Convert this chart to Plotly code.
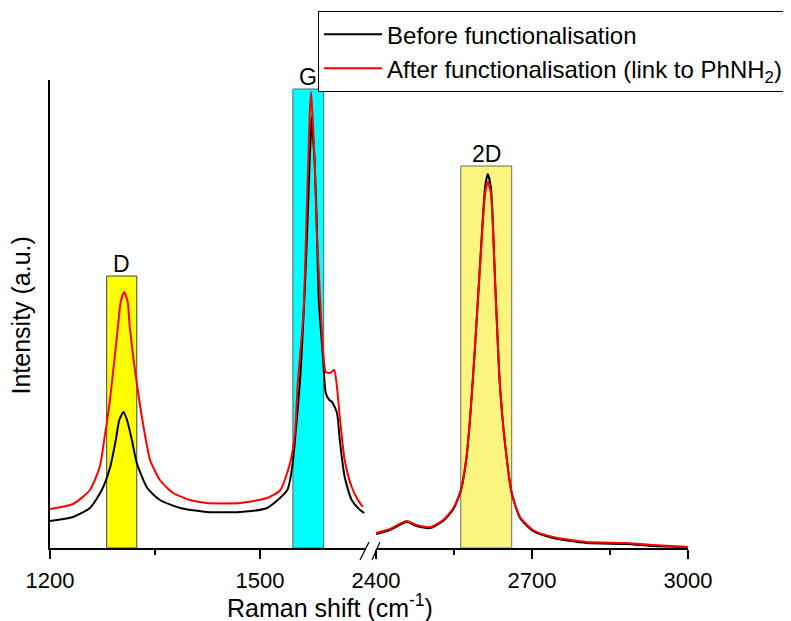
import plotly.graph_objects as go

# ---------------- data ----------------
# Left segment (Raman shift 1200-1650 cm-1)
before_left_x = [1200, 1233, 1257, 1274, 1286, 1294, 1299, 1305, 1310, 1317, 1324, 1339, 1357, 1386,
                 1424, 1471, 1510, 1539, 1546, 1550, 1557, 1561, 1564, 1568, 1571, 1573, 1574, 1575,
                 1578, 1581, 1584, 1590, 1594, 1599, 1603, 1610, 1614, 1621, 1631, 1643, 1649]
before_left_y = [27, 31, 40, 58, 81, 108, 128, 136, 128, 108, 85, 60, 48, 40,
                 36, 36, 40, 58, 81, 108, 165, 215, 258, 328, 388, 418, 431, 418,
                 388, 328, 248, 191, 155, 148, 146, 135, 108, 71, 48, 38, 35]

after_left_x = [1200, 1233, 1257, 1271, 1277, 1286, 1297, 1301, 1306, 1311, 1314, 1326, 1337, 1343,
                1357, 1376, 1400, 1424, 1471, 1510, 1529, 1543, 1550, 1554, 1560, 1563, 1566, 1569,
                1571, 1573, 1575, 1578, 1581, 1586, 1590, 1594, 1600, 1606, 1610, 1614, 1621, 1631,
                1640, 1647]
after_left_y = [39, 44, 58, 81, 106, 150, 221, 246, 256, 246, 221, 155, 108, 88,
                68, 55, 48, 45, 45, 50, 58, 85, 115, 165, 215, 248, 318, 388,
                433, 456, 433, 388, 318, 248, 198, 176, 175, 178, 161, 131, 88, 61,
                48, 41]

# Right segment (Raman shift 2400-3000 cm-1)
right_x = [2400, 2427, 2459, 2478, 2504, 2529, 2549, 2563, 2574, 2581, 2590, 2600, 2610,
           2615, 2621, 2629, 2638, 2648, 2661, 2677, 2702, 2740, 2805, 2882, 2933, 3000]
before_right_y = [14, 18, 26, 22, 20, 27, 39, 57, 90, 130, 198, 283, 362,
                  374, 360, 268, 165, 105, 55, 30, 17, 10, 5, 4, 2, 1]
after_right_y = [15, 19, 27, 23, 21, 28, 40, 58, 91, 131, 198, 281, 355,
                 366, 355, 265, 165, 105, 55, 31, 18, 11, 6, 5, 3, 1]

# Highlighted bands
band_labels = ["D", "G", "2D"]
band_start = [1281, 1547, 2563]
band_end = [1324, 1591, 2661]
band_height = [272, 459, 382]
band_axis = ["x", "x", "x2"]

left_ticks = [1200, 1500]
left_minor = [1350]
right_ticks = [2400, 2700, 3000]
right_minor = [2550, 2850]

legend_names = ["Before functionalisation", "After functionalisation (link to PhNH<sub>2</sub>)"]

# ---------------- figure ----------------
FONT = "Arial, Liberation Sans, sans-serif"
fig = go.Figure()

fig.add_trace(go.Scatter(x=before_left_x, y=before_left_y, mode="lines", name=legend_names[0],
                         line=dict(color="#000000", width=2, shape="spline", smoothing=0.6),
                         xaxis="x", yaxis="y", legendgroup="b"))
fig.add_trace(go.Scatter(x=after_left_x, y=after_left_y, mode="lines", name=legend_names[1],
                         line=dict(color="#ff0000", width=2, shape="spline", smoothing=0.6),
                         xaxis="x", yaxis="y", legendgroup="a"))
fig.add_trace(go.Scatter(x=right_x, y=before_right_y, mode="lines", name=legend_names[0],
                         line=dict(color="#000000", width=2, shape="spline", smoothing=0.6),
                         xaxis="x2", yaxis="y", legendgroup="b", showlegend=False))
fig.add_trace(go.Scatter(x=right_x, y=after_right_y, mode="lines", name=legend_names[1],
                         line=dict(color="#ff0000", width=2, shape="spline", smoothing=0.6),
                         xaxis="x2", yaxis="y", legendgroup="a", showlegend=False))

band_fill = ["#ffff00", "#00ffff", "#fbf57f"]
band_line = ["#404040", "#4a6a6a", "#6a6a50"]
shapes = []
annotations = []
for lab, s, e, h, ax, fc, lc in zip(band_labels, band_start, band_end, band_height, band_axis,
                                    band_fill, band_line):
    shapes.append(dict(type="rect", xref=ax, yref="y", x0=s, x1=e, y0=0, y1=h,
                       fillcolor=fc, line=dict(color=lc, width=1), layer="below"))
    annotations.append(dict(text=lab, xref=ax, yref="y", x=(s + e) / 2, y=h, yanchor="bottom",
                            showarrow=False, font=dict(size=23, color="black", family=FONT), yshift=-3))

# axis break marks
for x0, x1 in [(0.4859, 0.5), (0.5047, 0.5172)]:
    shapes.append(dict(type="line", xref="paper", yref="paper", x0=x0, y0=-0.0256, x1=x1, y1=0.0128,
                       line=dict(color="black", width=1.2)))

annotations.append(dict(text="Raman shift (cm<sup>-1</sup>)", xref="paper", yref="paper",
                        x=0.439, y=-0.124, xanchor="center", yanchor="middle", showarrow=False,
                        font=dict(size=25, color="black", family=FONT)))
annotations.append(dict(text="Intensity (a.u.)", xref="paper", yref="paper", textangle=-90,
                        x=-0.046, y=0.496, xanchor="center", yanchor="middle", showarrow=False,
                        font=dict(size=25, color="black", family=FONT)))

axis_common = dict(showline=True, linecolor="black", linewidth=1.5, showgrid=False, zeroline=False,
                   ticks="outside", ticklen=9, tickwidth=1.5, tickcolor="black",
                   tickfont=dict(size=22, color="black", family=FONT), ticklabelstandoff=3)

fig.update_layout(
    width=783, height=613,
    margin=dict(l=42, r=103, t=72, b=73, autoexpand=False),
    paper_bgcolor="white", plot_bgcolor="white",
    font=dict(family=FONT, color="black"),
    xaxis=dict(domain=[0, 0.4937], range=[1200, 1650], tickvals=left_ticks,
               minor=dict(tickvals=left_minor, ticklen=5, tickwidth=1.5, tickcolor="black", ticks="outside"),
               anchor="y", **axis_common),
    xaxis2=dict(domain=[0.511, 1], range=[2400, 3000], tickvals=right_ticks,
                minor=dict(tickvals=right_minor, ticklen=5, tickwidth=1.5, tickcolor="black", ticks="outside"),
                anchor="y", **axis_common),
    yaxis=dict(range=[0, 468], showline=True, linecolor="black", linewidth=1.5, showgrid=False,
               zeroline=False, showticklabels=False, ticks=""),
    legend=dict(xref="container", yref="container", x=0.396, y=0.995, xanchor="left", yanchor="top",
                bgcolor="white", bordercolor="black", borderwidth=1,
                font=dict(size=24, color="black", family=FONT),
                tracegroupgap=0, itemwidth=58),
    shapes=shapes, annotations=annotations,
)

fig.write_html("out.html")
